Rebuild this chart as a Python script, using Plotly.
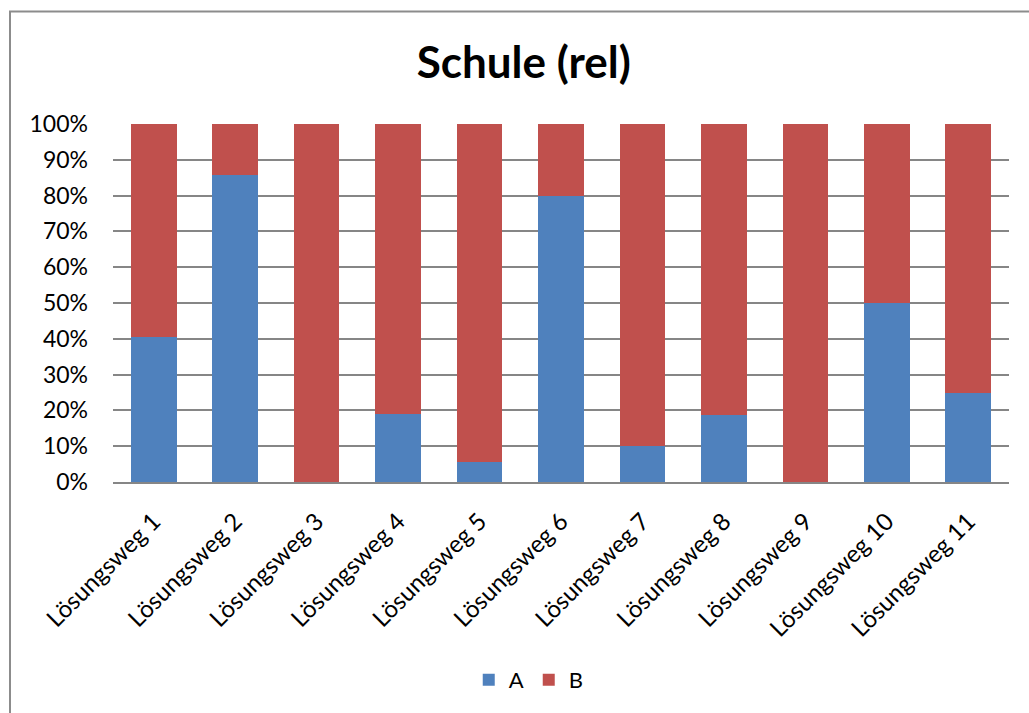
import plotly.graph_objects as go

# Shares per solution path (fractions of 1)
categories = [f"Lösungsweg {i}" for i in range(1, 12)]
share_a = [0.405, 0.857, 0.0, 0.19, 0.055, 0.80, 0.10, 0.187, 0.0, 0.50, 0.25]
share_b = [0.595, 0.143, 1.0, 0.81, 0.945, 0.20, 0.90, 0.813, 1.0, 0.50, 0.75]
y_ticks = [0, 0.1, 0.2, 0.3, 0.4, 0.5, 0.6, 0.7, 0.8, 0.9, 1.0]

BLUE = "#4F81BD"
RED = "#C0504D"
GRID = "#868686"
FONT = "Lato"

fig = go.Figure()
fig.add_trace(go.Bar(name="A", x=categories, y=share_a, marker_color=BLUE,
                     marker_line_width=0))
fig.add_trace(go.Bar(name="B", x=categories, y=share_b, marker_color=RED,
                     marker_line_width=0))

fig.update_layout(
    width=1029, height=713,
    margin=dict(l=113, r=20, t=124, b=231),
    paper_bgcolor="white", plot_bgcolor="white",
    barmode="stack", bargap=0.44,
    font=dict(family=FONT, color="black"),
    title=dict(text="<b>Schule (rel)</b>", x=0.509, xref="container",
               y=1 - 63 / 713, yref="container", xanchor="center",
               yanchor="middle", font=dict(size=44, family=FONT, color="black")),
    legend=dict(orientation="h", x=0.464, xanchor="center", y=-0.553,
                yanchor="middle", font=dict(size=22, family=FONT),
                traceorder="normal", itemwidth=30),
    showlegend=True,
)

fig.update_yaxes(range=[0, 1], tickvals=y_ticks, tickformat=".0%",
                 showgrid=True, gridcolor=GRID, gridwidth=1.5,
                 zeroline=False, showline=False, ticks="",
                 ticklabelstandoff=24, tickfont=dict(size=23, family=FONT))
fig.update_xaxes(tickangle=-45, showgrid=False, showline=True,
                 linecolor=GRID, linewidth=1.5, ticks="",
                 ticklabelstandoff=14, tickfont=dict(size=24, family=FONT))

# Chart-area frame
fig.add_shape(type="rect", xref="paper", yref="paper",
              x0=(10 - 113) / 896, x1=1.2, y0=-0.8, y1=1 + (124 - 11.5) / 358,
              line=dict(color="#8C8C8C", width=2), layer="below")

fig.write_html("out.html")
